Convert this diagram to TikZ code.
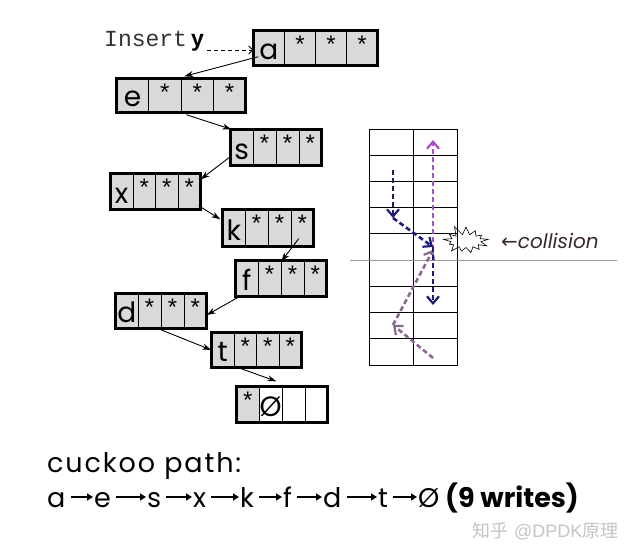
\documentclass[tikz,border=0pt]{standalone}
\usepackage{fontspec}
\usetikzlibrary{arrows.meta,calc,shapes.symbols}
\newfontfamily\dvs{DejaVu Sans}
\newfontfamily\monof{Liberation Mono}
\newfontfamily\arialf{Liberation Sans}
\newfontfamily\cjkf{Noto Sans CJK SC}
\newfontfamily\gothic{Poppins}
\definecolor{cellgray}{HTML}{D9D9D9}
\definecolor{navyarr}{HTML}{1C1C78}
\definecolor{purparr}{HTML}{A850C8}
\definecolor{mauvearr}{HTML}{8A6790}
\definecolor{wmgray}{HTML}{C4C4C4}
\definecolor{collcol}{HTML}{3A2A2A}
\tikzset{
  rowbox/.style={draw, line width=2.6pt, fill=cellgray, outer sep=0pt, inner sep=0pt},
  sepline/.style={line width=0.7pt},
  lettr/.style={font=\gothic\fontsize{28}{28}\selectfont, inner sep=0pt},
  asterk/.style={font=\arialf\fontsize{24}{24}\selectfont, inner sep=0pt},
  linkarrow/.style={line width=0.9pt, -{Stealth[length=9pt,width=6pt]}},
  gridline/.style={line width=0.8pt},
  pathdash/.style={line width=2.6pt, dash pattern=on 5pt off 3pt, -{Straight Barb[length=7pt,width=12pt,line width=2.2pt]}},
  pathtxt/.style={anchor=base west, inner sep=0pt, font=\gothic\fontsize{27}{27}\selectfont},
  patharrow/.style={line width=1.6pt, -{Triangle[length=6pt,width=7pt]}},
}
\newcommand\slotrow[6]{%
  \node[rowbox, minimum width={#4-#2-2.6}, minimum height={#5-#3-2.6}, anchor=north west] (#1) at (#2+1.3,#3+1.3) {};
  \foreach \q in {0.25,0.5,0.75}
    \draw[sepline] ($(#1.north west)!\q!(#1.north east)$) -- ($(#1.south west)!\q!(#1.south east)$);
  \node[lettr, anchor=base] (#1-l) at ($(#1.south west)!0.125!(#1.south east)+(0,-6)$) {#6};
  \foreach \q/\n in {0.375/2,0.625/3,0.875/4}
    \node[asterk] (#1-\n) at ($(#1.north west)!\q!(#1.north east)+(0,14)$) {*};
}
\begin{document}
\begin{tikzpicture}[x=1pt,y=-1pt]
\useasboundingbox[fill=white] (0,0) rectangle (641,549);

% rows
\slotrow{a}{252}{29}{379}{67}{a}
\slotrow{e}{115}{77}{247}{114}{e}
\slotrow{s}{229}{128}{323}{167}{s}
\slotrow{x}{109}{172}{202}{211}{x}
\slotrow{k}{221}{208}{315}{248}{k}
\slotrow{f}{234}{259}{328}{298}{f}
\slotrow{d}{114}{292}{208}{330}{d}
\slotrow{t}{210}{331}{303}{369}{t}
% last row
\node[rowbox, fill=white, minimum width={329-235-2.6}, minimum height={424-385-2.6}, anchor=north west] (z) at (236.3,386.3) {};
\fill[cellgray] ([shift={(1.3,1.3)}]z.north west) rectangle ($(z.south west)!0.25!(z.south east)+(0,-1.3)$);
\draw[line width=2.6pt] (z.north west) rectangle (z.south east);
\foreach \q in {0.25,0.5,0.75}
  \draw[sepline] ($(z.north west)!\q!(z.north east)$) -- ($(z.south west)!\q!(z.south east)$);
\node[asterk] (z-1) at ($(z.north west)!0.125!(z.north east)+(0,14)$) {*};
\node[lettr, anchor=base] (z-2) at ($(z.south west)!0.375!(z.south east)+(0,-6)$) {Ø};

% insert label
\node[anchor=base west, inner sep=0pt, text=black!80, font=\monof\fontsize{23}{23}\selectfont] (ins) at (104,46) {Insert};
\node[anchor=base west, inner sep=0pt, font=\arialf\bfseries\fontsize{23}{23}\selectfont] (yy) at (191,46) {y};
\draw[line width=0.9pt, dash pattern=on 4pt off 3pt, -{Straight Barb[length=4pt,width=8pt]}] ([shift={(3,4)}]yy.base east) -- ([shift={(0,2)}]a.west);

% links
\draw[linkarrow] ([shift={(5,-9)}]a.south west) -- ([shift={(68,-2)}]e.north west);
\draw[linkarrow] ([shift={(70,2)}]e.south west) -- ([shift={(1,0)}]s.north west);
\draw[linkarrow] ([shift={(0,-9)}]s.south west) -- ([shift={(0,6)}]x.north east);
\draw[linkarrow] ([shift={(-2,-4)}]x.south east) -- ([shift={(-2,10)}]k.north west);
\draw[linkarrow] ([shift={(-15,-8)}]k.south east) -- ([shift={(46,1)}]f.north west);
\draw[linkarrow] ([shift={(4,0)}]f.south west) -- ([shift={(0,4)}]d.east);
\draw[linkarrow] ([shift={(43,0)}]d.south west) -- (t.west);
\draw[linkarrow] ([shift={(30,1)}]t.south west) -- ([shift={(40,-5)}]z.north west);

% grid
\draw[gridline] (369,129) rectangle (457,365);
\draw[gridline] (413,129) -- (413,365);
\foreach \i in {1,...,8}
  \draw[gridline] (369,{129+\i*26.22}) -- (457,{129+\i*26.22});
\draw[gray!80, line width=0.8pt] (350,260) -- (617,260);

% cuckoo paths
\coordinate (p1) at (433,358);
\coordinate (p2) at (393,325);
\coordinate (p3) at (433,250);
\coordinate (p4) at (433,140);
\coordinate (b1) at (393,170);
\coordinate (b2) at (393,218);
\coordinate (b3) at (433,247);
\coordinate (b4) at (433,305);
\draw[pathdash, mauvearr] (p1) -- (p2);
\draw[pathdash, mauvearr] (p2) -- (p3);
\draw[pathdash, purparr] (p3) -- (p4);
\draw[pathdash, navyarr] (b1) -- (b2);
\draw[pathdash, navyarr] (b2) -- (b3);
\draw[pathdash, navyarr] (b3) -- (b4);

% collision
\node[starburst, draw, line width=0.6pt, minimum width=50pt, minimum height=33pt, starburst points=13, starburst point height=10pt, random starburst=11] (boom) at (466,241) {};
\node[anchor=west, inner sep=0pt, text=collcol] (coll) at (501,241) {{\dvs\fontsize{20}{20}\selectfont ←}{\gothic\itshape\fontsize{20}{20}\selectfont collision}};

% bottom text
\node[pathtxt] (cp) at (47,472) {\addfontfeature{LetterSpace=7}cuckoo path:};
\node[pathtxt] (c1) at (47,507) {a};
\node[pathtxt] (c2) at (94,507) {e};
\node[pathtxt] (c3) at (147,507) {s};
\node[pathtxt] (c4) at (193,507) {x};
\node[pathtxt] (c5) at (240,507) {k};
\node[pathtxt] (c6) at (283,507) {f};
\node[pathtxt] (c7) at (323,507) {d};
\node[pathtxt] (c8) at (378,507) {t};
\node[pathtxt] (c9) at (418,507) {Ø};
\node[pathtxt] (c10) at (445,507) {\bfseries (9 writes)};
\foreach \i/\j in {1/2,2/3,3/4,4/5,5/6,6/7,7/8,8/9}
  \draw[patharrow] ($(c\i.base east)+(5,-10)$) -- ($(c\j.base west)+(-1,-10)$);

% watermark
\node[anchor=west, inner sep=0pt, text=wmgray] (wm) at (472,531) {{\cjkf\fontsize{18}{18}\selectfont 知乎}\hspace{6pt}{\arialf\fontsize{18}{18}\selectfont @DPDK}{\cjkf\fontsize{18}{18}\selectfont 原理}};
\end{tikzpicture}
\end{document}
